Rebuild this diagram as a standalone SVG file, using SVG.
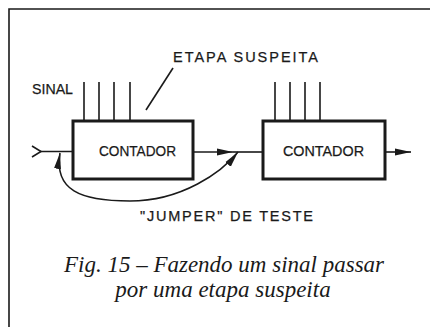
<svg xmlns="http://www.w3.org/2000/svg" width="430" height="327" viewBox="0 0 430 327">
<defs>
<style>
.lbl{font-family:"Liberation Sans",Arial,sans-serif;font-size:14.5px;fill:#1a1a1a;stroke:#1a1a1a;stroke-width:0.25}
.cap{font-family:"Liberation Serif","Times New Roman",serif;font-style:italic;font-size:23px;fill:#1a1a1a}
.box{fill:none;stroke:#1a1a1a;stroke-width:3}
.ln{fill:none;stroke:#1a1a1a;stroke-width:1.6}
</style>
<marker id="ah" markerUnits="userSpaceOnUse" markerWidth="16" markerHeight="8" refX="16" refY="4" orient="auto-start-reverse">
<path d="M0,0.5 L16,4 L0,7.5 z" fill="#1a1a1a"/>
</marker>
</defs>
<rect width="430" height="327" fill="#fff"/>
<g id="frame"><path class="ln" d="M430,9 H9 V327"/></g>
<g id="etapa-label">
<text class="lbl" x="173" y="62" textLength="145" lengthAdjust="spacing">ETAPA  SUSPEITA</text>
<line class="ln" x1="173" y1="68" x2="146" y2="110"/>
</g>
<g id="sinal-label"><text class="lbl" x="32" y="94" textLength="41" lengthAdjust="spacingAndGlyphs">SINAL</text></g>
<g id="contador1">
<rect class="box" x="73" y="121" width="120" height="58"/>
<path class="ln" d="M84,82 V121 M99,82 V121 M114,82 V121 M130,82 V121"/>
<text class="lbl" x="99" y="156" textLength="77" lengthAdjust="spacingAndGlyphs">CONTADOR</text>
</g>
<g id="contador2">
<rect class="box" x="263" y="121" width="122" height="58"/>
<path class="ln" d="M275,82 V121 M290,82 V121 M305,82 V121 M320,82 V121"/>
<text class="lbl" x="283" y="156" textLength="81" lengthAdjust="spacingAndGlyphs">CONTADOR</text>
</g>
<g id="connectors">
<path class="ln" d="M32,146 L41,151.5 L32,157"/>
<path class="ln" d="M40,151.5 H73"/>
<path class="ln" d="M193,152 H233" marker-end="url(#ah)"/>
<path class="ln" d="M233,152 H263"/>
<path class="ln" d="M385,152 H411" marker-end="url(#ah)"/>
<path class="ln" d="M60,153 C54,190 80,201 130,201 C182,201 222,172 238,152" marker-start="url(#ah)" marker-end="url(#ah)"/>
</g>
<g id="jumper-label"><text class="lbl" x="140" y="221" textLength="173" lengthAdjust="spacing">"JUMPER"  DE  TESTE</text></g>
<g id="caption">
<text class="cap" x="224" y="272" text-anchor="middle">Fig. 15 – Fazendo um sinal passar</text>
<text class="cap" x="223" y="297" text-anchor="middle">por uma etapa suspeita</text>
</g>
</svg>
